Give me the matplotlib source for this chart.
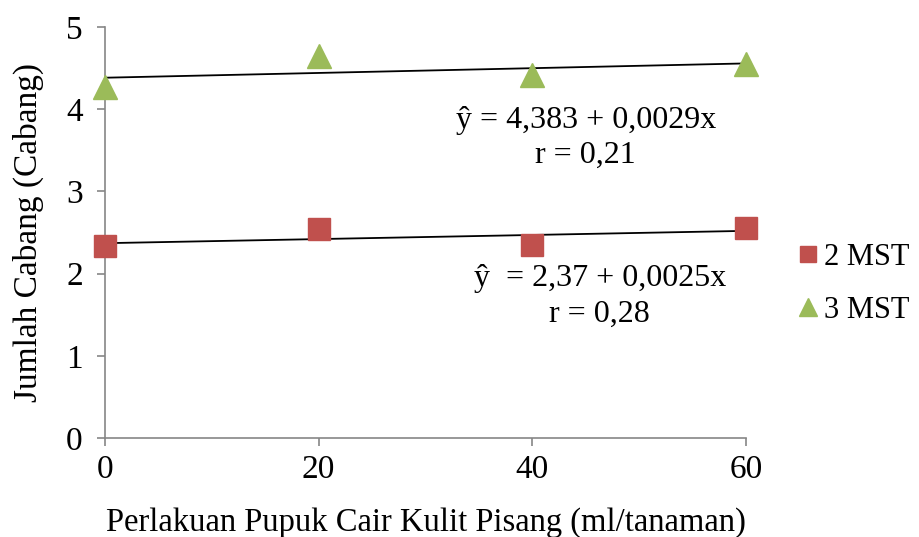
import matplotlib
matplotlib.use("Agg")
import matplotlib.pyplot as plt
import numpy as np

plt.rcParams['font.family'] = ['Liberation Serif', 'DejaVu Serif']

x_vals = [0, 20, 40, 60]
mst2 = [2.33, 2.54, 2.35, 2.56]
mst3 = [4.27, 4.65, 4.42, 4.55]
reg2 = (2.37, 0.0025)
reg3 = (4.383, 0.0029)
eq2 = "ŷ  = 2,37 + 0,0025x\nr = 0,28"
eq3 = "ŷ = 4,383 + 0,0029x\nr = 0,21"
xticks = [0, 20, 40, 60]
yticks = [0, 1, 2, 3, 4, 5]

fig = plt.figure(figsize=(9.2, 5.37), dpi=100)
ax = fig.add_axes([105/920, (537-438)/537, (746-105)/920, (438-27)/537])
ax.set_xlim(0, 60)
ax.set_ylim(0, 5)

red = '#C0504D'
green = '#9BBB59'

xs = np.array([min(x_vals), max(x_vals)])
ax.plot(xs, reg3[0] + reg3[1]*xs, color='black', lw=1.3, zorder=2)
ax.plot(xs, reg2[0] + reg2[1]*xs, color='black', lw=1.3, zorder=2)

ax.plot(x_vals, mst2, linestyle='none', marker='s', markersize=16, color=red,
        label='2 MST', clip_on=False, zorder=3)
ax.plot(x_vals, mst3, linestyle='none', marker='^', markersize=17, color=green,
        label='3 MST', clip_on=False, zorder=3)

ax.text(45.0, 3.65, eq3, ha='center', va='center', fontsize=23, linespacing=1.3)
ax.text(46.3, 1.72, eq2, ha='center', va='center', fontsize=23, linespacing=1.3)

for s in ['top', 'right']:
    ax.spines[s].set_visible(False)
for s in ['left', 'bottom']:
    ax.spines[s].set_color('#868686')
    ax.spines[s].set_linewidth(1.2)

ax.set_xticks(xticks)
ax.set_yticks(yticks)
ax.tick_params(axis='both', colors='#868686', labelcolor='black', labelsize=24,
               length=6, width=1.2, direction='out')
ax.tick_params(axis='x', pad=6)
ax.tick_params(axis='y', pad=10)

ax.set_xlabel('Perlakuan Pupuk Cair Kulit Pisang (ml/tanaman)', fontsize=23.5, labelpad=16)
ax.set_ylabel('Jumlah Cabang (Cabang)', fontsize=24, labelpad=16)

leg = ax.legend(loc='center left', bbox_to_anchor=(1.04, 0.375), frameon=False,
                fontsize=22, handlelength=0.6, handletextpad=0.2, labelspacing=0.8,
                markerscale=0.75)

fig.savefig('out.png', dpi=100)
